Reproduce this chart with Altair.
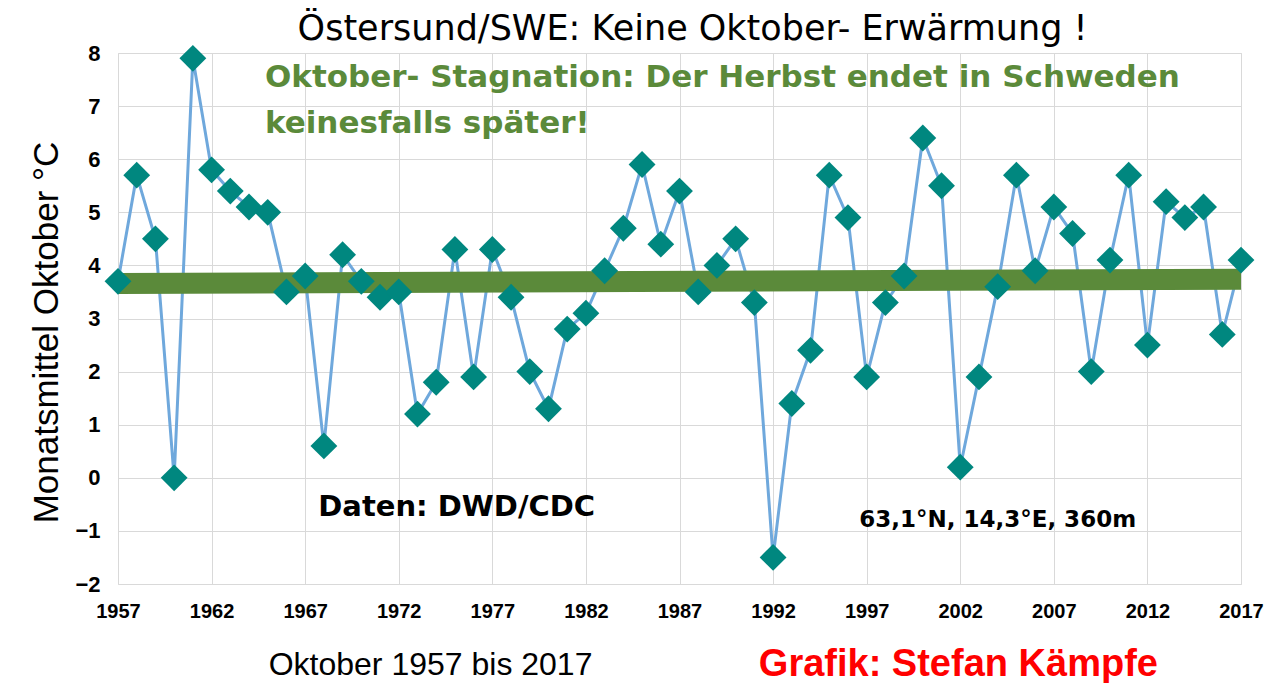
import altair as alt
import pandas as pd

years = list(range(1957, 2018))
temps = [3.7, 5.7, 4.5, 0.0, 7.9, 5.8, 5.4, 5.1, 5.0, 3.5,
         3.8, 0.6, 4.2, 3.7, 3.4, 3.5, 1.2, 1.8, 4.3, 1.9,
         4.3, 3.4, 2.0, 1.3, 2.8, 3.1, 3.9, 4.7, 5.9, 4.4,
         5.4, 3.5, 4.0, 4.5, 3.3, -1.5, 1.4, 2.4, 5.7, 4.9,
         1.9, 3.3, 3.8, 6.4, 5.5, 0.2, 1.9, 3.6, 5.7, 3.9,
         5.1, 4.6, 2.0, 4.1, 5.7, 2.5, 5.2, 4.9, 5.1, 2.7, 4.1]

trend_years = [1957, 2017]
trend_vals = [3.66, 3.74]

x_ticks = list(range(1957, 2018, 5))
y_ticks = list(range(-2, 9))

title_texts = ["Östersund/SWE:  Keine Oktober- Erwärmung !"]
title_x = [1987.7]
title_y = [8.45]

green_texts = ["Oktober- Stagnation: Der Herbst endet in Schweden", "keinesfalls später!"]
green_x = [1964.85, 1964.85]
green_y = [7.53, 6.67]

note_texts = ["Daten: DWD/CDC"]
note_x = [1967.7]
note_y = [-0.55]

coord_texts = ["63,1°N, 14,3°E, 360m"]
coord_x = [1996.6]
coord_y = [-0.8]

foot_left = ["Oktober 1957 bis 2017"]
foot_left_x = [1973.7]
foot_right = ["Grafik: Stefan Kämpfe"]
foot_right_x = [2001.9]
foot_y = [-3.52]

df = pd.DataFrame({"Jahr": years, "T": temps})
trend = pd.DataFrame({"Jahr": trend_years, "T": trend_vals})

xs = alt.Scale(domain=[1957, 2017], nice=False, zero=False)
ys = alt.Scale(domain=[-2, 8], nice=False, zero=False)

X = alt.X("Jahr:Q", scale=xs,
          axis=alt.Axis(values=x_ticks, format="d", title=None, ticks=False, domain=False,
                        labelFont="Liberation Sans", labelFontWeight="bold",
                        labelFontSize=20, labelPadding=17, labelColor="#000000",
                        labelFlush=False, gridColor="#d9d9d9", labelOverlap=False))
Y = alt.Y("T:Q", scale=ys,
          axis=alt.Axis(values=y_ticks, format="d", title="Monatsmittel Oktober °C",
                        ticks=False, domain=False, labelFlush=False,
                        labelFont="Liberation Sans", labelFontWeight="bold",
                        labelFontSize=22, labelPadding=18, labelColor="#000000",
                        titleFont="Liberation Sans", titleFontWeight="normal",
                        titleFontSize=35, titleColor="#000000", titlePadding=10,
                        titleY=279, gridColor="#d9d9d9"))

line = alt.Chart(df).mark_line(color="#6FA8DC", strokeWidth=3).encode(x=X, y=Y)
pts = alt.Chart(df).mark_point(shape="diamond", size=720, filled=True, opacity=1,
                               color="#00877F").encode(x="Jahr:Q", y="T:Q")
trend_line = alt.Chart(trend).mark_line(color="#5B8A3A", strokeWidth=21, strokeCap="butt").encode(
    x="Jahr:Q", y="T:Q")

def txt(texts, xv, yv, color, size, font, weight, align="left"):
    d = pd.DataFrame({"t": texts, "Jahr": xv, "T": yv})
    return alt.Chart(d).mark_text(align=align, baseline="middle", color=color, fontSize=size,
                                  font=font, fontWeight=weight).encode(
        x="Jahr:Q", y="T:Q", text="t:N")

tt = txt(title_texts, title_x, title_y, "#000000", 35, "DejaVu Sans", "normal", "center")
g = txt(green_texts, green_x, green_y, "#5B8A3A", 31, "DejaVu Sans", "bold")
n = txt(note_texts, note_x, note_y, "#000000", 29, "DejaVu Sans", "bold")
c = txt(coord_texts, coord_x, coord_y, "#000000", 23, "DejaVu Sans", "bold")
fl = txt(foot_left, foot_left_x, foot_y, "#000000", 32, "Liberation Sans", "normal", "center")
fr = txt(foot_right, foot_right_x, foot_y, "#FF0000", 38, "Liberation Sans", "bold", "center")

chart = alt.layer(line, trend_line, pts, tt, g, n, c, fl, fr).properties(
    width=1123, height=531,
    padding={"left": 110, "top": 45, "right": 34, "bottom": 99},
    autosize=alt.AutoSizeParams(type="none"),
).configure_view(stroke="#8c8c8c", strokeWidth=1.5).configure(background="white")

chart.save("out.html", embed_options={"renderer": "svg", "actions": False})
